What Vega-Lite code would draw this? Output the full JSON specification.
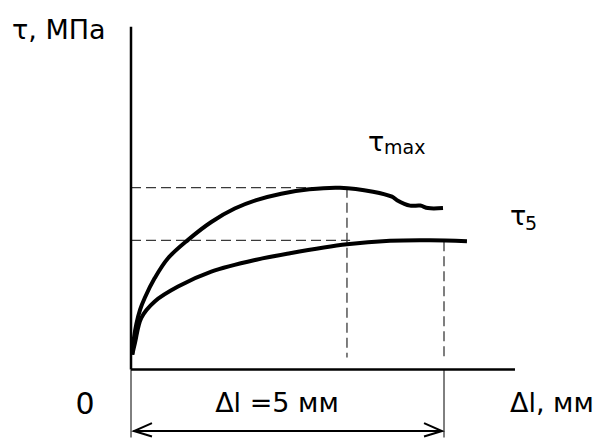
{
  "$schema": "https://vega.github.io/schema/vega-lite/v6.json",
  "width": 601,
  "height": 441,
  "autosize": {"type": "fit", "contains": "padding"},
  "padding": 0,
  "background": "white",
  "config": {"view": {"stroke": null}},
  "datasets": {
    "dashed": [
      {"x": 0, "y": 3.66, "x2": 3.45, "y2": 3.66},
      {"x": 3.45, "y": 3.66, "x2": 3.45, "y2": 0.24},
      {"x": 0, "y": 2.6, "x2": 3.5, "y2": 2.6},
      {"x": 5.0, "y": 2.58, "x2": 5.0, "y2": 0.24}
    ],
    "axes": [
      {"x": 0, "y": 0, "x2": 0, "y2": 6.9},
      {"x": 0, "y": 0, "x2": 6.134, "y2": 0}
    ],
    "thin": [
      {"x": 0, "y": 0, "x2": 0, "y2": -1.37},
      {"x": 5.0, "y": 0, "x2": 5.0, "y2": -1.37}
    ],
    "arrow": [
      {"x": 0.04, "y": -1.24, "x2": 4.97, "y2": -1.24}
    ],
    "heads": [
      {"h": "L", "i": 0, "x": 0.335, "y": -1.08},
      {"h": "L", "i": 1, "x": 0.048, "y": -1.24},
      {"h": "L", "i": 2, "x": 0.335, "y": -1.35},
      {"h": "R", "i": 0, "x": 4.681, "y": -1.08},
      {"h": "R", "i": 1, "x": 4.968, "y": -1.24},
      {"h": "R", "i": 2, "x": 4.681, "y": -1.35}
    ],
    "curves": [
      {"c": "max", "i": 0, "x": 0.02, "y": 0.3},
      {"c": "max", "i": 1, "x": 0.048, "y": 0.64},
      {"c": "max", "i": 2, "x": 0.085, "y": 0.91},
      {"c": "max", "i": 3, "x": 0.144, "y": 1.2},
      {"c": "max", "i": 4, "x": 0.219, "y": 1.44},
      {"c": "max", "i": 5, "x": 0.379, "y": 1.84},
      {"c": "max", "i": 6, "x": 0.591, "y": 2.24},
      {"c": "max", "i": 7, "x": 0.911, "y": 2.61},
      {"c": "max", "i": 8, "x": 1.283, "y": 2.97},
      {"c": "max", "i": 9, "x": 1.657, "y": 3.24},
      {"c": "max", "i": 10, "x": 2.002, "y": 3.41},
      {"c": "max", "i": 11, "x": 2.4, "y": 3.54},
      {"c": "max", "i": 12, "x": 2.85, "y": 3.63},
      {"c": "max", "i": 13, "x": 3.339, "y": 3.66},
      {"c": "max", "i": 14, "x": 3.866, "y": 3.58},
      {"c": "max", "i": 15, "x": 4.169, "y": 3.48},
      {"c": "max", "i": 16, "x": 4.249, "y": 3.41},
      {"c": "max", "i": 17, "x": 4.457, "y": 3.3},
      {"c": "max", "i": 18, "x": 4.62, "y": 3.3},
      {"c": "max", "i": 19, "x": 4.744, "y": 3.25},
      {"c": "max", "i": 20, "x": 4.984, "y": 3.25},
      {"c": "t5", "i": 0, "x": 0.02, "y": 0.3},
      {"c": "t5", "i": 1, "x": 0.064, "y": 0.54},
      {"c": "t5", "i": 2, "x": 0.165, "y": 1.04},
      {"c": "t5", "i": 3, "x": 0.379, "y": 1.37},
      {"c": "t5", "i": 4, "x": 0.751, "y": 1.67},
      {"c": "t5", "i": 5, "x": 1.283, "y": 1.97},
      {"c": "t5", "i": 6, "x": 2.002, "y": 2.21},
      {"c": "t5", "i": 7, "x": 2.54, "y": 2.34},
      {"c": "t5", "i": 8, "x": 3.45, "y": 2.52},
      {"c": "t5", "i": 9, "x": 4.137, "y": 2.59},
      {"c": "t5", "i": 10, "x": 4.776, "y": 2.6},
      {"c": "t5", "i": 11, "x": 5.367, "y": 2.58}
    ],
    "bigLeft": [
      {"t": "τ, МПа", "x": -1.901, "y": 6.66},
      {"t": "Δl, мм", "x": 6.054, "y": -0.86},
      {"t": "τ", "x": 3.786, "y": 4.4},
      {"t": "τ", "x": 6.054, "y": 2.9}
    ],
    "bigCenter": [
      {"t": "Δl =5 мм", "x": 2.332, "y": -0.86}
    ],
    "zero": [
      {"t": "0", "x": -0.735, "y": -0.9}
    ],
    "small": [
      {"t": "max", "x": 4.042, "y": 4.34},
      {"t": "5", "x": 6.294, "y": 2.8}
    ]
  },
  "encoding": {
    "x": {"field": "x", "type": "quantitative", "scale": {"domain": [-2.0927, 7.508], "nice": false, "zero": false}, "axis": null},
    "y": {"field": "y", "type": "quantitative", "scale": {"domain": [-1.38, 7.44], "nice": false, "zero": false}, "axis": null}
  },
  "layer": [
    {
      "data": {"name": "dashed"},
      "mark": {"type": "rule", "color": "#3a3a3a", "strokeWidth": 1.3, "strokeDash": [10, 5]},
      "encoding": {"x2": {"field": "x2"}, "y2": {"field": "y2"}}
    },
    {
      "data": {"name": "axes"},
      "mark": {"type": "rule", "color": "black", "strokeWidth": 2.5},
      "encoding": {"x2": {"field": "x2"}, "y2": {"field": "y2"}}
    },
    {
      "data": {"name": "thin"},
      "mark": {"type": "rule", "color": "black", "strokeWidth": 1},
      "encoding": {"x2": {"field": "x2"}, "y2": {"field": "y2"}}
    },
    {
      "data": {"name": "arrow"},
      "mark": {"type": "rule", "color": "black", "strokeWidth": 2},
      "encoding": {"x2": {"field": "x2"}, "y2": {"field": "y2"}}
    },
    {
      "data": {"name": "heads"},
      "mark": {"type": "line", "color": "black", "strokeWidth": 2},
      "encoding": {"detail": {"field": "h"}, "order": {"field": "i", "type": "quantitative"}}
    },
    {
      "data": {"name": "curves"},
      "mark": {"type": "line", "color": "black", "strokeWidth": 4, "interpolate": "catmull-rom", "strokeCap": "butt"},
      "encoding": {"detail": {"field": "c"}, "order": {"field": "i", "type": "quantitative"}}
    },
    {
      "data": {"name": "bigLeft"},
      "mark": {"type": "text", "font": "DejaVu Sans", "fontSize": 27, "align": "left", "baseline": "alphabetic", "color": "black"},
      "encoding": {"text": {"field": "t"}}
    },
    {
      "data": {"name": "bigCenter"},
      "mark": {"type": "text", "font": "DejaVu Sans", "fontSize": 27, "align": "center", "baseline": "alphabetic", "color": "black"},
      "encoding": {"text": {"field": "t"}}
    },
    {
      "data": {"name": "zero"},
      "mark": {"type": "text", "font": "DejaVu Sans", "fontSize": 30, "align": "center", "baseline": "alphabetic", "color": "black"},
      "encoding": {"text": {"field": "t"}}
    },
    {
      "data": {"name": "small"},
      "mark": {"type": "text", "font": "DejaVu Sans", "fontSize": 19, "align": "left", "baseline": "alphabetic", "color": "black"},
      "encoding": {"text": {"field": "t"}}
    }
  ]
}
